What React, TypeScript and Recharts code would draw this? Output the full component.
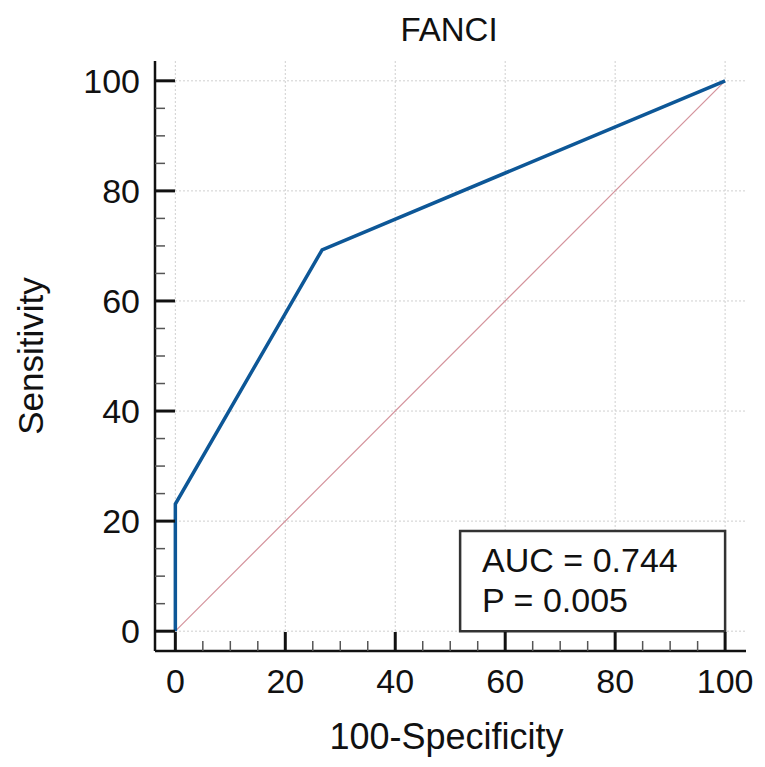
import React from 'react';
import {
  LineChart, Line, XAxis, YAxis, CartesianGrid, ReferenceLine, ReferenceArea,
} from 'recharts';

// ROC points (100-Specificity, Sensitivity)
const fpr = [0, 0, 26.7, 100];
const tpr = [0, 23.1, 69.3, 100];

const majorTicks = [0, 20, 40, 60, 80, 100];
const allTicks = [0, 5, 10, 15, 20, 25, 30, 35, 40, 45, 50, 55, 60, 65, 70, 75, 80, 85, 90, 95, 100];

const aucText = 'AUC = 0.744';
const pText = 'P = 0.005';

const FONT = '"Liberation Sans", Arial, sans-serif';

const rocData = fpr.map((x, i) => ({ x, y: tpr[i] }));

const YTick = (props: any) => {
  const { x, y, payload } = props;
  const major = payload.value % 20 === 0;
  return (
    <g>
      <line
        x1={x} x2={x + (major ? 20 : 10)} y1={y} y2={y}
        stroke={major ? '#111' : '#555'} strokeWidth={major ? 3 : 1.5}
      />
      {major && (
        <text x={x - 15} y={y + 12} textAnchor="end" fontSize={34} fontFamily={FONT} fill="#111">
          {payload.value}
        </text>
      )}
    </g>
  );
};

const XTick = (props: any) => {
  const { x, y, payload } = props;
  const major = payload.value % 20 === 0;
  return (
    <g>
      <line
        x1={x} x2={x} y1={y} y2={y - (major ? 19 : 10)}
        stroke={major ? '#111' : '#555'} strokeWidth={major ? 3 : 1.5}
      />
      {major && (
        <text x={x} y={y + 42} textAnchor="middle" fontSize={34} fontFamily={FONT} fill="#111">
          {payload.value}
        </text>
      )}
    </g>
  );
};

const YLabel = (props: any) => {
  const { viewBox } = props;
  const cx = 30;
  const cy = viewBox.y + viewBox.height / 2;
  return (
    <text
      x={cx} y={cy} transform={`rotate(-90, ${cx}, ${cy})`}
      textAnchor="middle" dominantBaseline="central"
      fontSize={35} fontFamily={FONT} fill="#111"
    >
      Sensitivity
    </text>
  );
};

const XLabel = (props: any) => {
  const { viewBox } = props;
  return (
    <text
      x={viewBox.x + viewBox.width / 2 - 4} y={749}
      textAnchor="middle" fontSize={36} fontFamily={FONT} fill="#111"
    >
      100-Specificity
    </text>
  );
};

const BoxLabel = (props: any) => {
  const { viewBox } = props;
  return (
    <g>
      <text x={viewBox.x + 22} y={viewBox.y + 41} fontSize={34} fontFamily={FONT} fill="#111">
        {aucText}
      </text>
      <text x={viewBox.x + 22} y={viewBox.y + 81} fontSize={34} fontFamily={FONT} fill="#111">
        {pText}
      </text>
    </g>
  );
};

export default function App() {
  return (
    <div style={{ position: 'absolute', left: 0, top: 0, width: 765, height: 767, background: '#fff' }}>
      <svg width={765} height={60} style={{ position: 'absolute', left: 0, top: 0 }}>
        <text x={449} y={41} textAnchor="middle" fontSize={33} fontFamily={FONT} fill="#111">
          FANCI
        </text>
      </svg>
      <LineChart
        width={765}
        height={767}
        data={rocData}
        margin={{ top: 61, right: 19, bottom: 16, left: 55 }}
      >
        <CartesianGrid
          stroke="#cfcfcf"
          strokeDasharray="2 2"
          horizontalValues={majorTicks}
          verticalValues={majorTicks}
        />
        <XAxis
          type="number"
          dataKey="x"
          domain={[-3.7, 103.8]}
          allowDataOverflow
          ticks={allTicks}
          interval={0}
          tickSize={0}
          tickMargin={0}
          tickLine={false}
          tick={<XTick />}
          axisLine={{ stroke: '#111', strokeWidth: 2.5 }}
          height={100}
          label={<XLabel />}
        />
        <YAxis
          type="number"
          domain={[-3.6, 103.6]}
          allowDataOverflow
          ticks={allTicks}
          interval={0}
          tickSize={0}
          tickMargin={0}
          tickLine={false}
          tick={<YTick />}
          axisLine={{ stroke: '#111', strokeWidth: 2.5 }}
          width={100}
          label={<YLabel />}
        />
        <ReferenceLine
          segment={[{ x: 0, y: 0 }, { x: 100, y: 100 }]}
          stroke="#d4939c"
          strokeWidth={1.2}
        />
        <ReferenceArea
          x1={51.8}
          x2={100}
          y1={0}
          y2={18.2}
          fill="#fff"
          fillOpacity={1}
          stroke="#333"
          strokeWidth={2.5}
          label={<BoxLabel />}
        />
        <Line
          type="linear"
          dataKey="y"
          stroke="#0d5797"
          strokeWidth={3.5}
          dot={false}
          isAnimationActive={false}
        />
      </LineChart>
    </div>
  );
}
